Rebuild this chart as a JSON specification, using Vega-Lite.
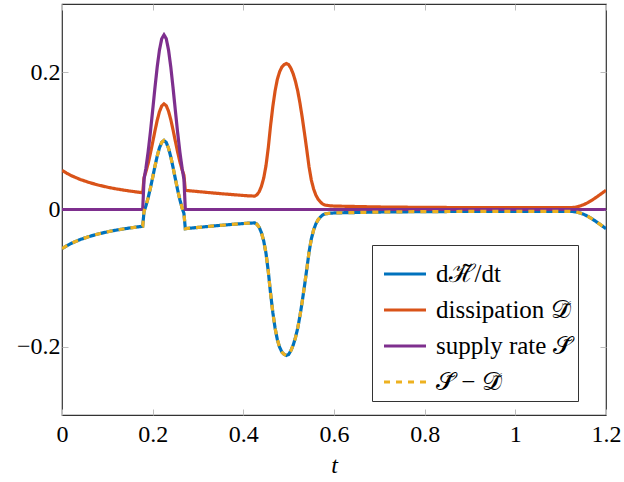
{
  "$schema": "https://vega.github.io/schema/vega-lite/v6.json",
  "width": 544,
  "height": 411,
  "autosize": {"type": "none"},
  "padding": {"left": 62, "top": 4, "right": 18, "bottom": 67},
  "background": "white",
  "config": {
    "view": {"stroke": "#333", "strokeWidth": 1.2},
    "font": "Liberation Serif",
    "axis": {
      "grid": false,
      "domain": false,
      "tickSize": -6,
      "tickColor": "#bdbdbd",
      "tickWidth": 1,
      "labelFont": "Liberation Serif",
      "labelFontSize": 24,
      "labelColor": "black",
      "labelFlush": false,
      "titleFont": "Liberation Serif",
      "titleFontSize": 24,
      "titleFontWeight": "normal",
      "titleColor": "black"
    },
    "legend": {
      "orient": "none",
      "legendX": 310,
      "legendY": 241,
      "strokeColor": "#333",
      "fillColor": "white",
      "padding": 6,
      "symbolOffset": 4,
      "symbolType": "stroke",
      "symbolSize": 1764,
      "symbolStrokeWidth": 3.2,
      "labelFont": "Liberation Serif",
      "labelFontSize": 25,
      "labelColor": "black",
      "labelOffset": 8,
      "labelLimit": 300,
      "rowPadding": -7
    }
  },
  "data": {
    "values": [
      {"t": 0, "dH": -0.057, "D": 0.057, "S": 0, "SD": -0.057},
      {"t": 0.01, "dH": -0.0531, "D": 0.0531, "S": 0, "SD": -0.0531},
      {"t": 0.02, "dH": -0.0496, "D": 0.0496, "S": 0, "SD": -0.0496},
      {"t": 0.04, "dH": -0.0439, "D": 0.0439, "S": 0, "SD": -0.0439},
      {"t": 0.06, "dH": -0.0394, "D": 0.0394, "S": 0, "SD": -0.0394},
      {"t": 0.08, "dH": -0.0357, "D": 0.0357, "S": 0, "SD": -0.0357},
      {"t": 0.1, "dH": -0.0326, "D": 0.0326, "S": 0, "SD": -0.0326},
      {"t": 0.12, "dH": -0.03, "D": 0.03, "S": 0, "SD": -0.03},
      {"t": 0.14, "dH": -0.0279, "D": 0.0279, "S": 0, "SD": -0.0279},
      {"t": 0.16, "dH": -0.026, "D": 0.026, "S": 0, "SD": -0.026},
      {"t": 0.178, "dH": -0.0245, "D": 0.0245, "S": 0, "SD": -0.0245},
      {"t": 0.181, "dH": -0.0026, "D": 0.0468, "S": 0.0442, "SD": -0.0026},
      {"t": 0.185, "dH": 0.005, "D": 0.0549, "S": 0.0599, "SD": 0.005},
      {"t": 0.19, "dH": 0.017, "D": 0.0671, "S": 0.0841, "SD": 0.017},
      {"t": 0.195, "dH": 0.0311, "D": 0.0818, "S": 0.1129, "SD": 0.0311},
      {"t": 0.2, "dH": 0.0468, "D": 0.098, "S": 0.1448, "SD": 0.0468},
      {"t": 0.205, "dH": 0.0629, "D": 0.1146, "S": 0.1775, "SD": 0.0629},
      {"t": 0.21, "dH": 0.0779, "D": 0.1301, "S": 0.208, "SD": 0.0779},
      {"t": 0.215, "dH": 0.0901, "D": 0.1428, "S": 0.2329, "SD": 0.0901},
      {"t": 0.22, "dH": 0.0981, "D": 0.1512, "S": 0.2493, "SD": 0.0981},
      {"t": 0.225, "dH": 0.1008, "D": 0.1542, "S": 0.255, "SD": 0.1008},
      {"t": 0.23, "dH": 0.0978, "D": 0.1515, "S": 0.2493, "SD": 0.0978},
      {"t": 0.235, "dH": 0.0894, "D": 0.1435, "S": 0.2329, "SD": 0.0894},
      {"t": 0.24, "dH": 0.0768, "D": 0.1312, "S": 0.208, "SD": 0.0768},
      {"t": 0.245, "dH": 0.0614, "D": 0.1161, "S": 0.1775, "SD": 0.0614},
      {"t": 0.25, "dH": 0.0449, "D": 0.0999, "S": 0.1448, "SD": 0.0449},
      {"t": 0.255, "dH": 0.0288, "D": 0.0841, "S": 0.1129, "SD": 0.0288},
      {"t": 0.26, "dH": 0.0143, "D": 0.0698, "S": 0.0841, "SD": 0.0143},
      {"t": 0.265, "dH": 0.0021, "D": 0.0578, "S": 0.0599, "SD": 0.0021},
      {"t": 0.269, "dH": -0.0059, "D": 0.0501, "S": 0.0442, "SD": -0.0059},
      {"t": 0.272, "dH": -0.028, "D": 0.028, "S": 0, "SD": -0.028},
      {"t": 0.285, "dH": -0.0271, "D": 0.0271, "S": 0, "SD": -0.0271},
      {"t": 0.3, "dH": -0.0262, "D": 0.0262, "S": 0, "SD": -0.0262},
      {"t": 0.33, "dH": -0.0243, "D": 0.0243, "S": 0, "SD": -0.0243},
      {"t": 0.36, "dH": -0.0226, "D": 0.0226, "S": 0, "SD": -0.0226},
      {"t": 0.39, "dH": -0.021, "D": 0.021, "S": 0, "SD": -0.021},
      {"t": 0.41, "dH": -0.02, "D": 0.02, "S": 0, "SD": -0.02},
      {"t": 0.425, "dH": -0.0196, "D": 0.0196, "S": 0, "SD": -0.0196},
      {"t": 0.43, "dH": -0.0215, "D": 0.0215, "S": 0, "SD": -0.0215},
      {"t": 0.435, "dH": -0.026, "D": 0.026, "S": 0, "SD": -0.026},
      {"t": 0.44, "dH": -0.034, "D": 0.034, "S": 0, "SD": -0.034},
      {"t": 0.445, "dH": -0.046, "D": 0.046, "S": 0, "SD": -0.046},
      {"t": 0.45, "dH": -0.064, "D": 0.064, "S": 0, "SD": -0.064},
      {"t": 0.455, "dH": -0.09, "D": 0.09, "S": 0, "SD": -0.09},
      {"t": 0.46, "dH": -0.122, "D": 0.122, "S": 0, "SD": -0.122},
      {"t": 0.465, "dH": -0.15, "D": 0.15, "S": 0, "SD": -0.15},
      {"t": 0.47, "dH": -0.173, "D": 0.173, "S": 0, "SD": -0.173},
      {"t": 0.475, "dH": -0.19, "D": 0.19, "S": 0, "SD": -0.19},
      {"t": 0.48, "dH": -0.201, "D": 0.201, "S": 0, "SD": -0.201},
      {"t": 0.485, "dH": -0.208, "D": 0.208, "S": 0, "SD": -0.208},
      {"t": 0.49, "dH": -0.2115, "D": 0.2115, "S": 0, "SD": -0.2115},
      {"t": 0.495, "dH": -0.213, "D": 0.213, "S": 0, "SD": -0.213},
      {"t": 0.5, "dH": -0.2115, "D": 0.2115, "S": 0, "SD": -0.2115},
      {"t": 0.505, "dH": -0.206, "D": 0.206, "S": 0, "SD": -0.206},
      {"t": 0.51, "dH": -0.198, "D": 0.198, "S": 0, "SD": -0.198},
      {"t": 0.515, "dH": -0.187, "D": 0.187, "S": 0, "SD": -0.187},
      {"t": 0.52, "dH": -0.173, "D": 0.173, "S": 0, "SD": -0.173},
      {"t": 0.525, "dH": -0.155, "D": 0.155, "S": 0, "SD": -0.155},
      {"t": 0.53, "dH": -0.134, "D": 0.134, "S": 0, "SD": -0.134},
      {"t": 0.535, "dH": -0.111, "D": 0.111, "S": 0, "SD": -0.111},
      {"t": 0.54, "dH": -0.087, "D": 0.087, "S": 0, "SD": -0.087},
      {"t": 0.545, "dH": -0.062, "D": 0.062, "S": 0, "SD": -0.062},
      {"t": 0.55, "dH": -0.043, "D": 0.043, "S": 0, "SD": -0.043},
      {"t": 0.555, "dH": -0.03, "D": 0.03, "S": 0, "SD": -0.03},
      {"t": 0.56, "dH": -0.021, "D": 0.021, "S": 0, "SD": -0.021},
      {"t": 0.565, "dH": -0.015, "D": 0.015, "S": 0, "SD": -0.015},
      {"t": 0.57, "dH": -0.011, "D": 0.011, "S": 0, "SD": -0.011},
      {"t": 0.575, "dH": -0.008, "D": 0.008, "S": 0, "SD": -0.008},
      {"t": 0.58, "dH": -0.0065, "D": 0.0065, "S": 0, "SD": -0.0065},
      {"t": 0.59, "dH": -0.0055, "D": 0.0055, "S": 0, "SD": -0.0055},
      {"t": 0.6, "dH": -0.005, "D": 0.005, "S": 0, "SD": -0.005},
      {"t": 0.7, "dH": -0.0037, "D": 0.0037, "S": 0, "SD": -0.0037},
      {"t": 0.8, "dH": -0.0031, "D": 0.0031, "S": 0, "SD": -0.0031},
      {"t": 0.9, "dH": -0.0028, "D": 0.0028, "S": 0, "SD": -0.0028},
      {"t": 1.0, "dH": -0.0026, "D": 0.0026, "S": 0, "SD": -0.0026},
      {"t": 1.1, "dH": -0.0026, "D": 0.0026, "S": 0, "SD": -0.0026},
      {"t": 1.12, "dH": -0.0027, "D": 0.0027, "S": 0, "SD": -0.0027},
      {"t": 1.13, "dH": -0.0031, "D": 0.0031, "S": 0, "SD": -0.0031},
      {"t": 1.14, "dH": -0.0045, "D": 0.0045, "S": 0, "SD": -0.0045},
      {"t": 1.15, "dH": -0.0068, "D": 0.0068, "S": 0, "SD": -0.0068},
      {"t": 1.16, "dH": -0.01, "D": 0.01, "S": 0, "SD": -0.01},
      {"t": 1.17, "dH": -0.014, "D": 0.014, "S": 0, "SD": -0.014},
      {"t": 1.18, "dH": -0.0185, "D": 0.0185, "S": 0, "SD": -0.0185},
      {"t": 1.19, "dH": -0.0232, "D": 0.0232, "S": 0, "SD": -0.0232},
      {"t": 1.2, "dH": -0.028, "D": 0.028, "S": 0, "SD": -0.028}
    ]
  },
  "transform": [{"fold": ["dH", "D", "S", "SD"], "as": ["series", "value"]}],
  "layer": [
    {
      "mark": {"type": "line", "strokeWidth": 3.2, "clip": true},
      "encoding": {
        "x": {
          "field": "t",
          "type": "quantitative",
          "scale": {"domain": [0, 1.2], "nice": false, "zero": false},
          "axis": {
            "orient": "bottom",
            "values": [0, 0.2, 0.4, 0.6, 0.8, 1, 1.2],
            "format": "~g",
            "labelPadding": 13,
            "title": "t",
            "titleFontStyle": "italic",
            "titlePadding": 7
          }
        },
        "y": {
          "field": "value",
          "type": "quantitative",
          "scale": {"domain": [-0.3, 0.3], "nice": false},
          "axis": {
            "orient": "left",
            "values": [-0.2, 0, 0.2],
            "format": "~g",
            "labelPadding": 8,
            "title": null
          }
        },
        "color": {
          "field": "series",
          "type": "nominal",
          "sort": ["dH", "D", "S", "SD"],
          "scale": {
            "domain": ["dH", "D", "S", "SD"],
            "range": ["#0072BD", "#D95319", "#7E2F8E", "#EDB120"]
          },
          "legend": {
            "title": null,
            "labelExpr": "datum.value == 'dH' ? 'dℋ̃/dt' : datum.value == 'D' ? 'dissipation 𝒟̃' : datum.value == 'S' ? 'supply rate 𝒮̃' : '𝒮̃ − 𝒟̃'"
          }
        },
        "strokeDash": {
          "field": "series",
          "type": "nominal",
          "sort": ["dH", "D", "S", "SD"],
          "scale": {
            "domain": ["dH", "D", "S", "SD"],
            "range": [[1, 0], [1, 0], [1, 0], [6, 6]]
          },
          "legend": {
            "title": null,
            "labelExpr": "datum.value == 'dH' ? 'dℋ̃/dt' : datum.value == 'D' ? 'dissipation 𝒟̃' : datum.value == 'S' ? 'supply rate 𝒮̃' : '𝒮̃ − 𝒟̃'"
          }
        }
      }
    },
    {
      "mark": {"type": "line", "opacity": 0},
      "encoding": {
        "x": {
          "field": "t",
          "type": "quantitative",
          "axis": {"orient": "top", "values": [0, 0.2, 0.4, 0.6, 0.8, 1, 1.2], "labels": false, "title": null}
        },
        "y": {
          "field": "value",
          "type": "quantitative",
          "axis": {"orient": "right", "values": [-0.2, 0, 0.2], "labels": false, "title": null}
        }
      }
    }
  ],
  "resolve": {"axis": {"x": "independent", "y": "independent"}}
}
